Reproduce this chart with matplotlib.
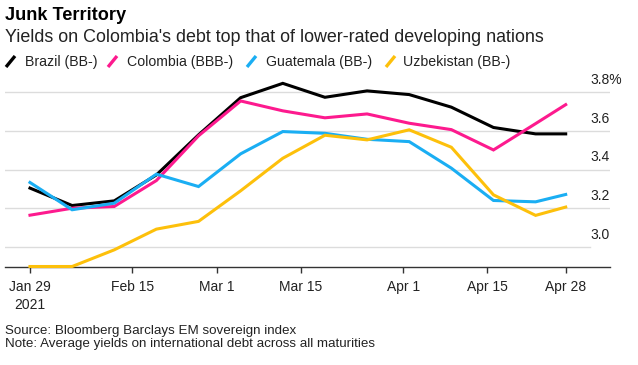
import matplotlib
matplotlib.use("Agg")
import matplotlib.pyplot as plt
import matplotlib.dates as mdates
from matplotlib.lines import Line2D
import pandas as pd

plt.rcParams["font.family"] = ["Liberation Sans", "DejaVu Sans"]

# ---------------------------------------------------------------- data
dates = pd.to_datetime([
    "2021-01-29", "2021-02-05", "2021-02-12", "2021-02-19", "2021-02-26",
    "2021-03-05", "2021-03-12", "2021-03-19", "2021-03-26", "2021-04-02",
    "2021-04-09", "2021-04-16", "2021-04-23", "2021-04-28",
])
brazil = [3.305, 3.215, 3.239, 3.373, 3.580, 3.772, 3.846,
          3.774, 3.807, 3.788, 3.723, 3.618, 3.585, 3.585]
colombia = [3.165, 3.201, 3.210, 3.344, 3.575, 3.755, 3.704,
            3.668, 3.688, 3.640, 3.607, 3.502, 3.638, 3.736]
guatemala = [3.334, 3.193, 3.227, 3.377, 3.313, 3.482, 3.597,
             3.588, 3.557, 3.545, 3.408, 3.241, 3.234, 3.272]
uzbekistan = [2.900, 2.900, 2.986, 3.093, 3.133, 3.291, 3.459,
              3.578, 3.554, 3.606, 3.516, 3.270, 3.164, 3.207]

series_names = ["Brazil (BB-)", "Colombia (BBB-)", "Guatemala (BB-)", "Uzbekistan (BB-)"]
series_vals = [brazil, colombia, guatemala, uzbekistan]
colors = ["#000000", "#fd1a8e", "#1aaef3", "#fdc00b"]

yticks = [3.0, 3.2, 3.4, 3.6, 3.8]
ytick_labels = ["3.0", "3.2", "3.4", "3.6", "3.8%"]
xticks = pd.to_datetime(["2021-01-29", "2021-02-15", "2021-03-01", "2021-03-15",
                         "2021-04-01", "2021-04-15", "2021-04-28"])
xtick_labels = ["Jan 29\n2021", "Feb 15", "Mar 1", "Mar 15", "Apr 1", "Apr 15", "Apr 28"]

# ---------------------------------------------------------------- figure
W, H = 638, 365
fig = plt.figure(figsize=(W / 100, H / 100), dpi=100)
ax = fig.add_axes([5 / W, (H - 266.5) / H, 605 / W, (266.5 - 78.7) / H])

TXT = "#222222"

# gridlines (3.0 stops a bit short, like the original)
for v in yticks:
    ax.axhline(v, xmin=0, xmax=0.967 if v == 3.0 else 1.0, color="#dcdcdc", lw=1, zorder=0)

for vals, c in zip(series_vals, colors):
    ax.plot(dates, vals, color=c, lw=2.2, solid_joinstyle="miter", zorder=3, clip_on=False)

x0 = mdates.date2num(dates[0])
ax.set_xlim(x0 - 4.15, mdates.date2num(dates[-1]) + 7.36)
ax.set_ylim(2.9, 3.87)

for s in ["left", "right", "top"]:
    ax.spines[s].set_visible(False)
ax.spines["bottom"].set_color("#333333")
ax.spines["bottom"].set_linewidth(1)
ax.set_yticks([])
ax.set_xticks(xticks)
ax.set_xticklabels(xtick_labels, fontsize=10, color=TXT, linespacing=1.3)
ax.tick_params(axis="x", length=4, width=1, color="#333333", pad=6)

ytrans = matplotlib.transforms.blended_transform_factory(ax.transAxes, ax.transData)
for v, lab in zip(yticks, ytick_labels):
    ax.annotate(lab, xy=(0.967, v), xycoords=ytrans, xytext=(0, 6),
                textcoords="offset points", fontsize=10, color=TXT,
                ha="left", va="baseline")

# ---------------------------------------------------------------- titles / legend / footer
def fy(px):
    return (H - px) / H

fig.text(5 / W, fy(20), "Junk Territory", fontsize=13.1, fontweight="bold",
         color="#000000", va="baseline")
fig.text(5 / W, fy(41.7), "Yields on Colombia's debt top that of lower-rated developing nations",
         fontsize=12.9, color=TXT, va="baseline")

leg_marks = [6, 108, 247, 386]
leg_texts = [25, 127, 266, 403]
for name, c, mx, tx in zip(series_names, colors, leg_marks, leg_texts):
    fig.add_artist(Line2D([mx / W, (mx + 9) / W], [fy(67), fy(56)],
                          transform=fig.transFigure, color=c, lw=2.4,
                          solid_capstyle="butt"))
    fig.text(tx / W, fy(66), name, fontsize=10.2, color=TXT, va="baseline")

fig.text(5 / W, fy(334), "Source: Bloomberg Barclays EM sovereign index",
         fontsize=9.6, color=TXT, va="baseline")
fig.text(5 / W, fy(347), "Note: Average yields on international debt across all maturities",
         fontsize=9.6, color=TXT, va="baseline")

fig.savefig("out.png", dpi=100, facecolor="white")
